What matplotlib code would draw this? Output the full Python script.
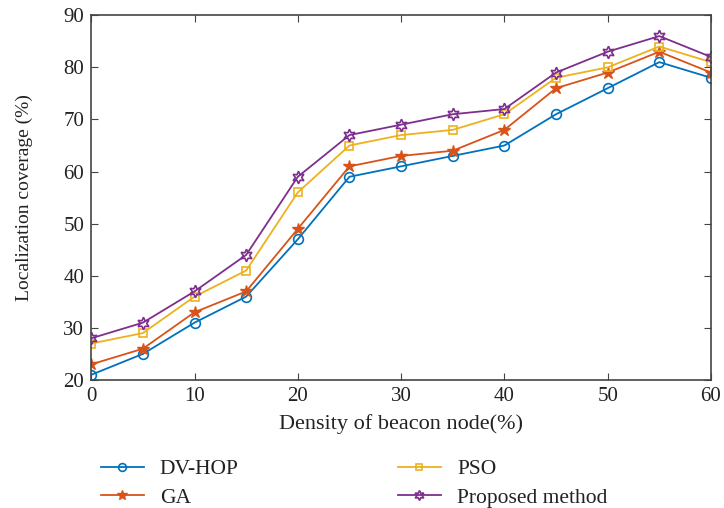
import matplotlib
matplotlib.use("Agg")
import matplotlib.pyplot as plt

plt.rcParams['font.family'] = ['Liberation Serif', 'DejaVu Serif']

density = [0, 5, 10, 15, 20, 25, 30, 35, 40, 45, 50, 55, 60]
dvhop = [21, 25, 31, 36, 47, 59, 61, 63, 65, 71, 76, 81, 78]
ga = [23, 26, 33, 37, 49, 61, 63, 64, 68, 76, 79, 83, 79]
pso = [27, 29, 36, 41, 56, 65, 67, 68, 71, 78, 80, 84, 81]
proposed = [28, 31, 37, 44, 59, 67, 69, 71, 72, 79, 83, 86, 82]
labels = ["DV-HOP", "GA", "PSO", "Proposed method"]

fig = plt.figure(figsize=(7.24, 5.08), dpi=100)
ax = fig.add_axes([0.126, 0.252, 0.856, 0.718])

ax.plot(density, dvhop, color='#0072BD', marker='o', mfc='none', ms=7, lw=1.3, mew=1.2, label=labels[0])
ax.plot(density, ga, color='#D95319', marker='*', ms=9, lw=1.3, label=labels[1])
ax.plot(density, pso, color='#EDB120', marker='s', mfc='none', ms=6, lw=1.3, mew=1.2, label=labels[2])
ax.plot(density, proposed, color='#7E2F8E', marker=(6, 1, 0), mfc='none', ms=9, lw=1.3, mew=1.2, label=labels[3])

ax.set_xlim(0, 60)
ax.set_ylim(20, 90)
ax.set_xticks(range(0, 61, 10))
ax.set_yticks(range(20, 91, 10))
ax.tick_params(direction='in', top=True, right=True, labelsize=15, length=5,
               color='#444444', labelcolor='#222222', pad=5)
for s in ax.spines.values():
    s.set_color('#444444')
    s.set_linewidth(1.2)
ax.set_xlabel("Density of beacon node(%)", fontsize=16, labelpad=6, color='#222222')
ax.set_ylabel("Localization coverage (%)", fontsize=14, labelpad=22, color='#222222')

handles, labs = ax.get_legend_handles_labels()
leg = fig.legend(handles, labs,
                 loc='upper left', bbox_to_anchor=(0.124, 0.117), ncol=2, frameon=False,
                 fontsize=15.5, columnspacing=7.4, handlelength=2.0, handletextpad=0.75,
                 labelspacing=0.38, borderpad=0, markerscale=0.8)
for t in leg.get_texts():
    t.set_color('#222222')

fig.savefig("out.png", dpi=100)
